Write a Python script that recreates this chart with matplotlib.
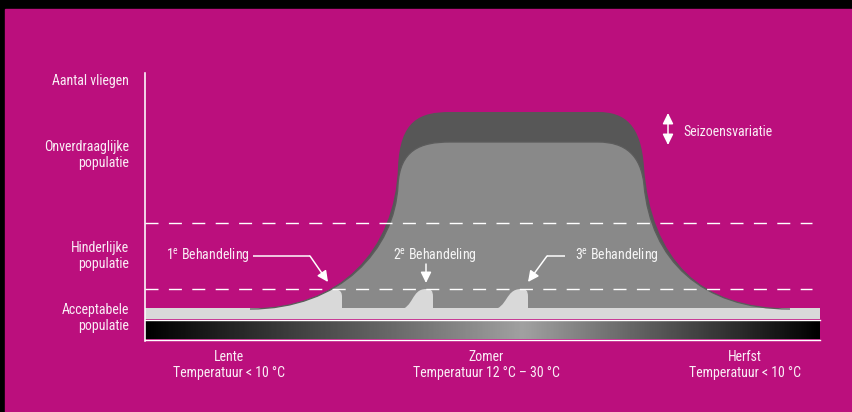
"""Schematic of fly population over the seasons (Lente / Zomer / Herfst)."""

import numpy as np
import matplotlib
matplotlib.use("Agg")
from matplotlib import pyplot as plt
from matplotlib.path import Path
from matplotlib.patches import PathPatch, Rectangle, FancyArrowPatch

# --- diagram data (pixel units, y grows downwards) -------------------------
# population curve: left foot, left flank, plateau, right flank, right foot
curve_x = [250, 340, 395, 398, 400, 420, 450, 598, 625, 641, 644, 651, 701, 790]
curve_y = [309, 309, 250, 185, 150, 142, 142, 142, 142, 155, 185, 260, 309, 309]
# extra height of the summer peak ("Seizoensvariatie")
season_lift = [0, 0, 0, 18, 30, 30, 30, 30, 30, 30, 18, 0, 0, 0]

threshold_y = [223, 289]     # hinderlijk / onverdraaglijk limits
baseline_y = 309

# treatment bumps: (start, peak, end) x-positions
bump_start = [150, 399, 492]
bump_peak = [330, 426, 521]
bump_end = [342, 433, 528]

y_labels = [("Aantal vliegen",), ("Onverdraaglijke", "populatie"),
            ("Hinderlijke", "populatie"), ("Acceptabele", "populatie")]
y_label_pos = [81, 155, 256, 318]

seasons = ["Lente", "Zomer", "Herfst"]
season_temps = ["Temperatuur < 10 °C", "Temperatuur 12 °C – 30 °C",
                "Temperatuur < 10 °C"]
season_x = [229, 486, 745]

treatments = [r"1$^{\mathrm{e}}$ Behandeling", r"2$^{\mathrm{e}}$ Behandeling",
              r"3$^{\mathrm{e}}$ Behandeling"]
treatment_x = [166, 393, 575]

MAGENTA = "#BB0F7D"
LIGHT = "#898989"
DARK = "#575757"
PALE = "#D9D9D9"
FONT_NAME = "Roboto Condensed"

plt.rcParams["font.family"] = [FONT_NAME, "DejaVu Sans"]
plt.rcParams["mathtext.fontset"] = "custom"
plt.rcParams["mathtext.rm"] = FONT_NAME
plt.rcParams["lines.scale_dashes"] = False
PX = 0.72  # points per pixel at dpi 100

fig = plt.figure(figsize=(8.52, 4.12), dpi=100, facecolor="black")
ax = fig.add_axes([0, 0, 1, 1])
ax.set_xlim(0, 852)
ax.set_ylim(412, 0)
ax.axis("off")

ax.add_patch(Rectangle((5, 9), 852, 412, color=MAGENTA, zorder=0))

CURVE_CODES = [Path.CURVE4] * 6 + [Path.LINETO] + [Path.CURVE4] * 6


def curve_path(lift=None, closed=True):
    lift = lift or [0] * len(curve_y)
    pts = [(x, y - d) for x, y, d in zip(curve_x, curve_y, lift)]
    codes = [Path.MOVETO] + CURVE_CODES
    if closed:
        pts = [(150, baseline_y + 10)] + pts + [(815, baseline_y + 10), (0, 0)]
        codes = [Path.MOVETO, Path.LINETO] + CURVE_CODES + [Path.LINETO, Path.CLOSEPOLY]
    return Path(pts, codes)


ax.add_patch(PathPatch(curve_path(season_lift), facecolor=DARK, lw=0, zorder=1))
main = PathPatch(curve_path(), facecolor=LIGHT, lw=0, zorder=2)
ax.add_patch(main)

# pale band under the curve
ax.add_patch(Rectangle((145, baseline_y - 1), 675, 11, color=PALE, lw=0, zorder=3))

# treatment bumps
top = threshold_y[1]
for x0, xp, x1 in zip(bump_start, bump_peak, bump_end):
    w = xp - x0
    verts = [(x0, baseline_y + 1), (x0 + 0.55 * w, baseline_y - 1),
             (xp - 0.55 * w, top), (xp, top),
             (xp + 0.7 * (x1 - xp), top), (x1, top + 1), (x1, top + 8),
             (x1, baseline_y + 1), (0, 0)]
    codes = [Path.MOVETO] + [Path.CURVE4] * 6 + [Path.LINETO, Path.CLOSEPOLY]
    bump = PathPatch(Path(verts, codes), facecolor=PALE, lw=0, zorder=3)
    ax.add_patch(bump)
    bump.set_clip_path(main)

ax.add_patch(PathPatch(curve_path(closed=False), facecolor="none",
                       edgecolor="#5C5C5C", lw=1.3 * PX, zorder=4))

# gradient temperature bar
grad_x = np.linspace(145, 820, 400)
grad = np.interp(grad_x, [145, 523, 820], [0.0, 0.63, 0.0])
ax.imshow(grad[None, :], cmap="gray", vmin=0, vmax=1, aspect="auto",
          extent=[145, 820, 339.5, 320.5], zorder=3)
ax.plot([145, 820], [320, 320], color="white", lw=1.4 * PX, zorder=4)
ax.plot([145, 820], [340, 340], color="white", lw=1.4 * PX, zorder=4)

# y axis and thresholds
ax.plot([145, 145], [73, 341], color="white", lw=1.6 * PX, zorder=5)
for y in threshold_y:
    ax.plot([145, 812], [y, y], color="white", lw=1.4 * PX, zorder=5,
            dashes=(13 * PX, 10.4 * PX))

txt = dict(color="white", alpha=0.93, fontsize=10, zorder=6)

for lines, yc in zip(y_labels, y_label_pos):
    n = len(lines)
    for i, line in enumerate(lines):
        ax.text(129, yc + (i - (n - 1) / 2) * 16, line, ha="right", va="center", **txt)

for name, temp, x in zip(seasons, season_temps, season_x):
    ax.text(x, 357, name, ha="center", va="center", **txt)
    ax.text(x, 373, temp, ha="center", va="center", **txt)

for label, x in zip(treatments, treatment_x):
    ax.text(x, 256, label, ha="left", va="center", **txt)

ax.text(683, 132, "Seizoensvariatie", ha="left", va="center", **txt)

# arrows
lw_arrow = 1.5 * PX


def arrow(points, style="-|>"):
    xs, ys = zip(*points)
    if len(points) > 2:
        ax.plot(xs[:-1], ys[:-1], color="white", lw=lw_arrow, zorder=6,
                solid_capstyle="butt")
    a = FancyArrowPatch(points[-2], points[-1],
                        arrowstyle=style + ",head_length=6.5,head_width=3.2",
                        mutation_scale=1, color="white", lw=lw_arrow,
                        shrinkA=0, shrinkB=0, zorder=6)
    ax.add_patch(a)


arrow([(253, 256), (310, 256), (328, 282)])
arrow([(426, 264), (426, 283)])
arrow([(565, 256), (547, 256), (528, 282)])
arrow([(668, 113), (668, 145)], style="<|-|>")

fig.savefig("out.png", dpi=100, facecolor=fig.get_facecolor())
